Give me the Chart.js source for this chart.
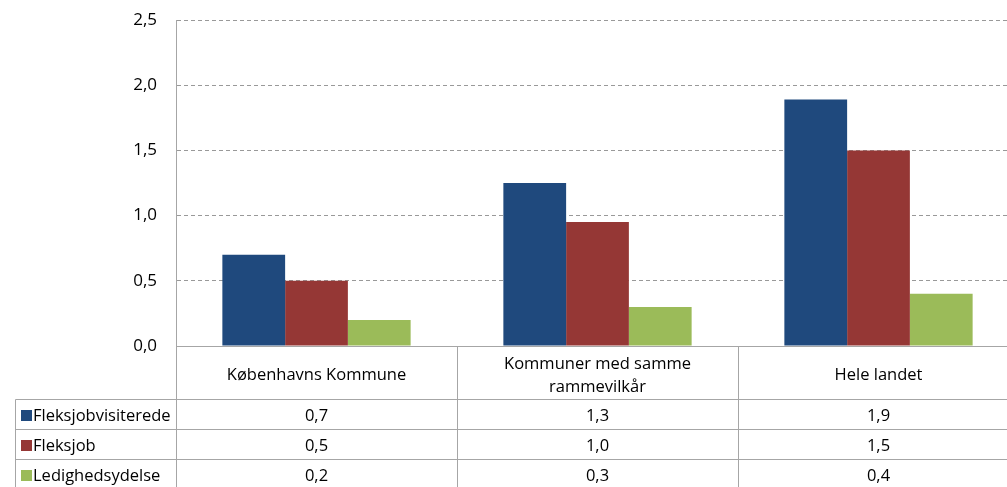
<!DOCTYPE html>
<html lang="da">
<head>
  <meta charset="UTF-8" />
  <title>Fleksjob</title>
  <script src="https://cdn.jsdelivr.net/npm/chart.js"></script>
  <style>
    html, body {
      margin: 0;
      padding: 0;
      background: #fff;
      overflow: hidden;
    }
    #wrap {
      position: relative;
      width: 1020px;
      height: 487px;
    }
  </style>
</head>
<body>
  <div id="wrap">
    <canvas id="chart"></canvas>
  </div>

  <script>
    // Data
    const categories = [['Københavns Kommune'], ['Kommuner med samme', 'rammevilkår'], ['Hele landet']];
    const seriesNames = ['Fleksjobvisiterede', 'Fleksjob', 'Ledighedsydelse'];
    const fleksjobvisiterede = [0.7, 1.25, 1.89];
    const fleksjob = [0.5, 0.95, 1.5];
    const ledighedsydelse = [0.2, 0.3, 0.4];
    // values as printed in the data table
    const tabelFleksjobvisiterede = ['0,7', '1,3', '1,9'];
    const tabelFleksjob = ['0,5', '1,0', '1,5'];
    const tabelLedighedsydelse = ['0,2', '0,3', '0,4'];
    const colors = ['#1F497D', '#953735', '#9BBB59'];

    const FONT = '"Open Sans", Lato, sans-serif';
    const lineColor = '#a6a6a6';

    const tableRows = [tabelFleksjobvisiterede, tabelFleksjob, tabelLedighedsydelse];

    // draws the Excel-style data table under the plot
    const dataTable = {
      id: 'dataTable',
      afterDraw(chart) {
        const { ctx, chartArea, scales } = chart;
        const xs = scales.x;
        const top = chartArea.bottom;
        const bottom = chart.height;
        const colW = (chartArea.right - chartArea.left) / categories.length;
        const headerH = 53;
        const rowH = 30;
        const legendLeft = 15;

        const crisp = v => Math.round(v) + 0.5;
        const line = (x1, y1, x2, y2) => {
          ctx.beginPath();
          ctx.moveTo(crisp(x1), crisp(y1));
          ctx.lineTo(crisp(x2), crisp(y2));
          ctx.stroke();
        };

        ctx.save();
        ctx.strokeStyle = lineColor;
        ctx.lineWidth = 1;

        // vertical lines
        line(chartArea.left, top, chartArea.left, bottom);
        for (let i = 1; i <= categories.length; i++) {
          const x = chartArea.left + i * colW;
          line(x, top, x, bottom);
        }
        line(legendLeft, top + headerH, legendLeft, bottom);

        // horizontal lines
        for (let r = 0; r < tableRows.length; r++) {
          const y = top + headerH + r * rowH;
          line(legendLeft, y, chart.width, y);
        }

        ctx.fillStyle = '#000';
        ctx.textAlign = 'center';
        ctx.textBaseline = 'middle';
        ctx.font = '16.5px ' + FONT;

        // category headers
        categories.forEach((lab, i) => {
          const cx = xs.getPixelForValue(i);
          const cy = top + headerH / 2 + 3;
          const lh = 23;
          lab.forEach((t, k) => {
            ctx.fillText(t, cx, cy + (k - (lab.length - 1) / 2) * lh);
          });
        });

        // rows
        tableRows.forEach((vals, r) => {
          const cy = top + headerH + r * rowH + rowH / 2 + 2;
          ctx.fillStyle = colors[r];
          ctx.fillRect(legendLeft + 6, cy - 6, 11, 11);
          ctx.fillStyle = '#000';
          ctx.textAlign = 'left';
          ctx.fillText(seriesNames[r], legendLeft + 18, cy);
          ctx.textAlign = 'center';
          vals.forEach((v, i) => {
            ctx.fillText(v, xs.getPixelForValue(i), cy);
          });
        });

        ctx.restore();
      }
    };

    const datasets = [fleksjobvisiterede, fleksjob, ledighedsydelse].map((d, i) => ({
      label: seriesNames[i],
      data: d,
      backgroundColor: colors[i],
      borderWidth: 0,
      barPercentage: 1,
      categoryPercentage: 0.67
    }));

    new Chart(document.getElementById('chart'), {
      type: 'bar',
      data: {
        labels: categories.map(c => c.join(' ')),
        datasets: datasets
      },
      plugins: [dataTable],
      options: {
        responsive: true,
        maintainAspectRatio: false,
        animation: false,
        layout: {
          padding: { top: 20, left: 0, right: 1, bottom: 141 }
        },
        plugins: {
          legend: { display: false },
          tooltip: { enabled: false }
        },
        scales: {
          x: {
            ticks: { display: false },
            grid: { display: false, drawTicks: false },
            border: { display: true, color: lineColor, width: 1 },
            afterFit: s => { s.height = 0; }
          },
          y: {
            min: 0,
            max: 2.5,
            ticks: {
              stepSize: 0.5,
              padding: 19,
              color: '#000',
              font: { family: FONT, size: 17 },
              callback: v => v.toFixed(1).replace('.', ',')
            },
            grid: {
              color: '#999',
              drawTicks: false
            },
            border: { display: true, color: lineColor, width: 1, dash: [4, 3] },
            afterFit: s => {
              s.width = 176;
              s.paddingTop = 0;
              s.paddingBottom = 0;
            }
          }
        }
      }
    });
  </script>
</body>
</html>
